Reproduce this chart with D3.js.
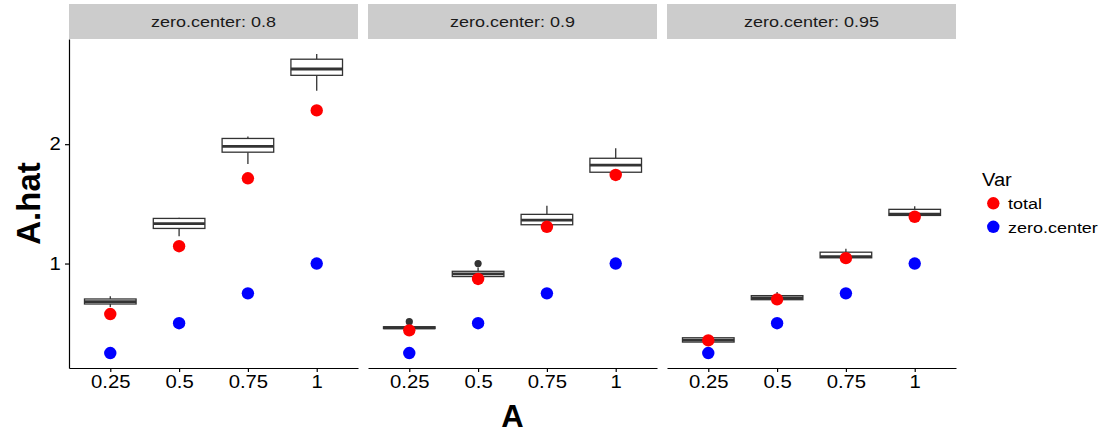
<!DOCTYPE html>
<html>
<head>
<meta charset="utf-8">
<script src="https://cdn.jsdelivr.net/npm/d3@7"></script>
<style>
  html, body { margin: 0; padding: 0; background: #fff; }
  svg { display: block; font-family: "Liberation Sans", Arial, sans-serif; }
</style>
</head>
<body>
<svg id="chart" width="1106" height="433"></svg>
<script>
// Facet labels and x categories
const facets = ["zero.center: 0.8", "zero.center: 0.9", "zero.center: 0.95"];
const categories = ["0.25", "0.5", "0.75", "1"];
const yTicks = [1, 2];

// Point series (one row per facet, one value per category)
const totalValues = [
  [0.577, 1.145, 1.714, 2.283],
  [0.440, 0.871, 1.308, 1.742],
  [0.356, 0.700, 1.045, 1.392]
];
const zeroCenterValues = [
  [0.25, 0.5, 0.75, 1.0],
  [0.25, 0.5, 0.75, 1.0],
  [0.25, 0.5, 0.75, 1.0]
];

// Box summaries per facet / category
const whiskerLow = [
  [0.635, 1.229, 1.834, 2.448],
  [0.445, 0.878, 1.300, 1.740],
  [0.336, 0.690, 1.040, 1.396]
];
const q1 = [
  [0.661, 1.294, 1.933, 2.577],
  [0.455, 0.891, 1.325, 1.765],
  [0.342, 0.697, 1.048, 1.403]
];
const median = [
  [0.681, 1.334, 1.981, 2.630],
  [0.462, 0.913, 1.364, 1.824],
  [0.358, 0.712, 1.058, 1.414]
];
const q3 = [
  [0.703, 1.378, 2.048, 2.712],
  [0.470, 0.935, 1.412, 1.882],
  [0.378, 0.731, 1.095, 1.454]
];
const whiskerHigh = [
  [0.725, 1.384, 2.065, 2.756],
  [0.480, 0.966, 1.485, 1.966],
  [0.385, 0.762, 1.124, 1.479]
];
const outliers = [
  [[], [], [], []],
  [[0.513], [1.0], [], []],
  [[], [], [], []]
];

const legendKeys = ["total", "zero.center"];
const legendColors = ["#FF0000", "#0000FF"];

const svg = d3.select("#chart");

const panelLeft = 69, panelWidth = 289, panelGap = 10;
const stripTop = 4, plotTop = 39, plotBottom = 368;
const textStretch = 1.16;

const allValues = [totalValues, zeroCenterValues, whiskerLow, whiskerHigh, outliers]
  .flat(3);
const [vmin, vmax] = d3.extent(allValues);
const pad = (vmax - vmin) * 0.05;
const y = d3.scaleLinear().domain([vmin - pad, vmax + pad]).range([plotBottom, plotTop]);

function stretch(sel, k) {
  sel.attr("transform", `scale(${k},1)`);
}

facets.forEach((label, i) => {
  const x0 = panelLeft + i * (panelWidth + panelGap);
  const x = d3.scalePoint().domain(categories).range([x0, x0 + panelWidth]).padding(0.6);
  const boxW = x.step() * 0.75;
  const g = svg.append("g");

  // strip
  g.append("rect")
    .attr("x", x0).attr("y", stripTop)
    .attr("width", panelWidth).attr("height", plotTop - stripTop)
    .attr("fill", "#CCCCCC");
  g.append("g")
    .attr("transform", `translate(${x0 + panelWidth / 2},${(stripTop + plotTop) / 2 + 5.5})`)
    .append("text")
    .attr("text-anchor", "middle")
    .attr("font-size", 15.5)
    .attr("fill", "#1A1A1A")
    .text(label)
    .call(stretch, textStretch);

  // boxplots
  categories.forEach((c, j) => {
    const cx = x(c);
    const bg = g.append("g").attr("stroke", "#333333").attr("stroke-width", 1.3);
    bg.append("line").attr("x1", cx).attr("x2", cx)
      .attr("y1", y(q3[i][j])).attr("y2", y(whiskerHigh[i][j]));
    bg.append("line").attr("x1", cx).attr("x2", cx)
      .attr("y1", y(q1[i][j])).attr("y2", y(whiskerLow[i][j]));
    bg.append("rect")
      .attr("x", cx - boxW / 2).attr("width", boxW)
      .attr("y", y(q3[i][j])).attr("height", y(q1[i][j]) - y(q3[i][j]))
      .attr("fill", "#FFFFFF");
    bg.append("line")
      .attr("x1", cx - boxW / 2).attr("x2", cx + boxW / 2)
      .attr("y1", y(median[i][j])).attr("y2", y(median[i][j]))
      .attr("stroke-width", 2.8);
    outliers[i][j].forEach(v => {
      g.append("circle").attr("cx", cx).attr("cy", y(v)).attr("r", 3.6)
        .attr("fill", "#333333");
    });
  });

  // points
  g.selectAll("circle.zc").data(zeroCenterValues[i]).join("circle")
    .attr("class", "zc")
    .attr("cx", (d, j) => x(categories[j])).attr("cy", d => y(d))
    .attr("r", 6.2).attr("fill", legendColors[1]);
  g.selectAll("circle.tot").data(totalValues[i]).join("circle")
    .attr("class", "tot")
    .attr("cx", (d, j) => x(categories[j])).attr("cy", d => y(d))
    .attr("r", 6.2).attr("fill", legendColors[0]);

  // x axis
  const ax = g.append("g")
    .attr("transform", `translate(0,${plotBottom})`)
    .call(d3.axisBottom(x).tickSize(4).tickSizeOuter(0).tickPadding(4));
  ax.select(".domain").attr("stroke", "#000").attr("stroke-width", 1.2);
  ax.selectAll(".tick line").attr("stroke", "#000").attr("stroke-width", 1.2);
  ax.selectAll(".tick text")
    .attr("font-size", 17.5).attr("font-family", "Liberation Sans, Arial, sans-serif")
    .attr("fill", "#000").call(stretch, textStretch);

  if (i === 0) {
    const ay = g.append("g")
      .attr("transform", `translate(${x0},0)`)
      .call(d3.axisLeft(y).tickValues(yTicks).tickFormat(d3.format("d"))
        .tickSize(4).tickSizeOuter(0).tickPadding(3));
    ay.select(".domain").attr("stroke", "#000").attr("stroke-width", 1.2);
    ay.selectAll(".tick line").attr("stroke", "#000").attr("stroke-width", 1.2);
    ay.selectAll(".tick text")
      .attr("font-size", 17.5).attr("font-family", "Liberation Sans, Arial, sans-serif")
      .attr("fill", "#000").call(stretch, textStretch);
  }
});

// axis titles
const plotsRight = panelLeft + 3 * panelWidth + 2 * panelGap;
svg.append("text")
  .attr("x", (panelLeft + plotsRight) / 2).attr("y", 426.5)
  .attr("text-anchor", "middle")
  .attr("font-size", 31).attr("font-weight", "bold")
  .text("A");
svg.append("text")
  .attr("transform", `translate(40,${(plotTop + plotBottom) / 2}) rotate(-90)`)
  .attr("text-anchor", "middle")
  .attr("font-size", 33).attr("font-weight", "bold")
  .text("A.hat");

// legend
const lg = svg.append("g").attr("transform", "translate(982,0)");
lg.append("g").attr("transform", "translate(0,186)")
  .append("text").attr("font-size", 19).attr("fill", "#000")
  .text("Var").call(stretch, 1.06);
legendKeys.forEach((k, idx) => {
  const cy = 203.3 + idx * 23.5;
  lg.append("circle").attr("cx", 11.3).attr("cy", cy).attr("r", 6.2)
    .attr("fill", legendColors[idx]);
  lg.append("g").attr("transform", `translate(26,${cy + 6})`)
    .append("text").attr("font-size", 15.5).attr("fill", "#000")
    .text(k).call(stretch, textStretch);
});
</script>
</body>
</html>
